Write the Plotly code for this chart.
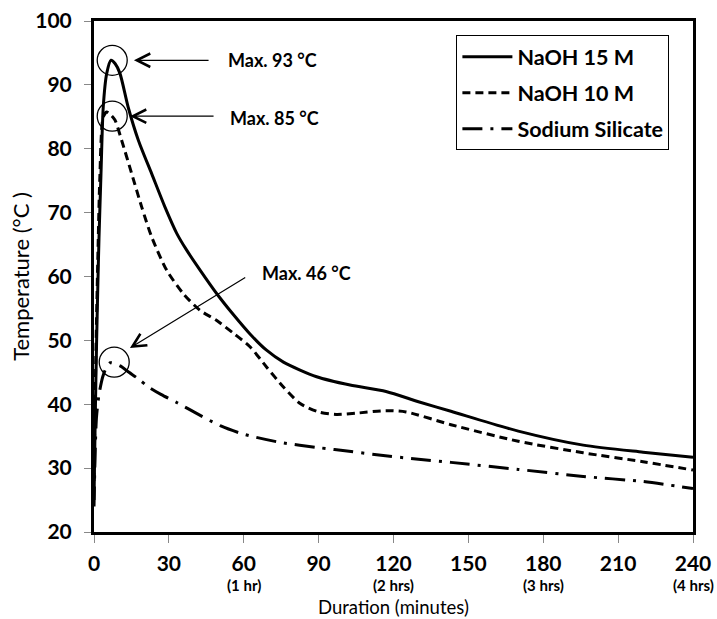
import plotly.graph_objects as go

# ---- data ----
t_15 = [0, 0.5, 1, 1.5, 2, 2.8, 3.7, 5.1, 6.8, 8.5, 10.4, 13.7, 17.8, 23.1, 28.4, 33.1, 37, 42.5, 49.2, 55.9, 62.5, 69, 75.9, 89.2, 102.6, 117, 130, 143, 170, 196, 220, 240]
v_15 = [25, 38, 49, 58, 66, 76.1, 86.5, 91.8, 93.85, 93.3, 91.8, 86.5, 81.3, 76.1, 70.9, 66.8, 64.2, 61, 57.3, 54.0, 51, 48.5, 46.6, 44.3, 43.0, 42.0, 40.4, 38.9, 35.8, 33.6, 32.5, 31.7]

t_10 = [0, 0.5, 1, 1.7, 2.3, 3.7, 5.1, 6.5, 8.4, 11.1, 15.1, 19.1, 23.1, 29.1, 35.8, 42.5, 49.2, 55.9, 62.5, 69.2, 75.9, 82.6, 90, 97, 105, 117, 125, 143, 170, 196, 220, 240]
v_10 = [28, 42, 53, 65.7, 75, 85, 85.75, 85.4, 84.5, 81.3, 76.1, 70.9, 66.2, 61, 57.3, 54.7, 53.1, 51.1, 49, 45.8, 42.7, 40.1, 38.8, 38.4, 38.6, 39, 38.8, 36.8, 34.2, 32.4, 31, 29.7]

t_ss = [0, 0.5, 1, 2, 3.5, 5, 6.5, 8, 10.5, 14, 17.7, 21.5, 27, 33.5, 40, 50.8, 60, 75, 90, 103, 115, 130, 143, 170, 196, 220, 240]
v_ss = [24, 33, 38, 41.5, 44.3, 45.8, 46.5, 46.4, 46, 45, 44, 42.8, 41.5, 40.2, 38.8, 36.6, 35.3, 34, 33.2, 32.6, 32, 31.4, 30.9, 29.8, 28.7, 27.9, 26.8]

names = ["NaOH 15 M", "NaOH 10 M", "Sodium Silicate"]
x_ticks = [0, 30, 60, 90, 120, 150, 180, 210, 240]
x_sub_ticks = [60, 120, 180, 240]
x_sub = ["(1 hr)", "(2 hrs)", "(3 hrs)", "(4 hrs)"]
y_ticks = [20, 30, 40, 50, 60, 70, 80, 90, 100]
x_title = "Duration (minutes)"
y_title = "Temperature (°C )"

# peak annotations: circle centre (t, v), arrow head (t, v), arrow tail (t, v), text pos (t, v), label
peaks = [
    (7.3, 93.85, 16.0, 93.85, 46.5, 93.85, 52.9, 93.85, "Max. 93 °C"),
    (7.3, 85.1, 14.4, 85.1, 48.5, 85.1, 53.7, 84.8, "Max. 85 °C"),
    (8.1, 46.6, 14.4, 48.8, 61.2, 60.0, 66.5, 60.5, "Max. 46 °C"),
]

FONT = "Lato"

fig = go.Figure()
styles = ["solid", "8px,5px", "20px,8px,3px,8px"]
for i, (tx, vy) in enumerate([(t_15, v_15), (t_10, v_10), (t_ss, v_ss)]):
    fig.add_trace(go.Scatter(
        x=tx, y=vy, mode="lines", name=names[i], legendgroup=str(i),
        line=dict(color="black", width=3, dash=styles[i], shape="spline", smoothing=0.7),
    ))

for (cx, cy, hx, hy, tx_, ty_, lx, ly, lab) in peaks:
    fig.add_shape(type="circle", xref="x", yref="y", xsizemode="pixel", ysizemode="pixel",
                  xanchor=cx, yanchor=cy, x0=-15, x1=15, y0=-15, y1=15,
                  line=dict(color="black", width=1.3))
    fig.add_annotation(x=hx, y=hy, ax=tx_, ay=ty_, xref="x", yref="y", axref="x", ayref="y",
                       text="", showarrow=True, arrowhead=5, arrowsize=2.2, arrowwidth=1.2,
                       arrowcolor="black")
    fig.add_annotation(x=lx, y=ly, xref="x", yref="y", text="<b>" + lab + "</b>",
                       showarrow=False, xanchor="left", yanchor="middle",
                       font=dict(family=FONT, size=18, color="black"))

for xv, s in zip(x_sub_ticks, x_sub):
    fig.add_annotation(x=xv, y=0, xref="x", yref="paper", text="<b>" + s + "</b>",
                       showarrow=False, xanchor="center", yanchor="middle", yshift=-53,
                       font=dict(family=FONT, size=15, color="black"))

# x-axis title placed below the hour sub-labels
fig.add_annotation(x=0.5, y=0, xref="paper", yref="paper", text=x_title,
                   showarrow=False, xanchor="center", yanchor="middle", yshift=-75,
                   font=dict(family=FONT, size=18.5, color="black"))

fig.update_layout(
    width=717, height=619,
    margin=dict(l=94, r=24, t=21, b=87),
    paper_bgcolor="white", plot_bgcolor="white",
    font=dict(family=FONT, color="black"),
    showlegend=True,
    legend=dict(x=0.605, y=0.972, xanchor="left", yanchor="top",
                bordercolor="black", borderwidth=1, bgcolor="white",
                font=dict(family=FONT, size=21.5, color="black", weight="bold"),
                itemwidth=50, tracegroupgap=5),
    xaxis=dict(range=[0, 240], tickvals=x_ticks, ticktext=["<b>%d</b>" % v for v in x_ticks],
               showline=True, linecolor="black", linewidth=3, mirror=True,
               ticks="outside", ticklen=8, tickcolor="#888", tickwidth=1,
               showgrid=False, zeroline=False, ticklabelstandoff=3, automargin=False,
               tickfont=dict(family=FONT, size=21, color="black")),
    yaxis=dict(range=[20, 100], tickvals=y_ticks, ticktext=["<b>%d</b>" % v for v in y_ticks],
               showline=True, linecolor="black", linewidth=3, mirror=True,
               ticks="outside", ticklen=7, tickcolor="#888", tickwidth=1,
               showgrid=False, zeroline=False, ticklabelstandoff=8, automargin=False,
               tickfont=dict(family=FONT, size=21, color="black"),
               title=dict(text=y_title, font=dict(family=FONT, size=22, color="black"), standoff=0)),
)

fig.write_html("out.html")
